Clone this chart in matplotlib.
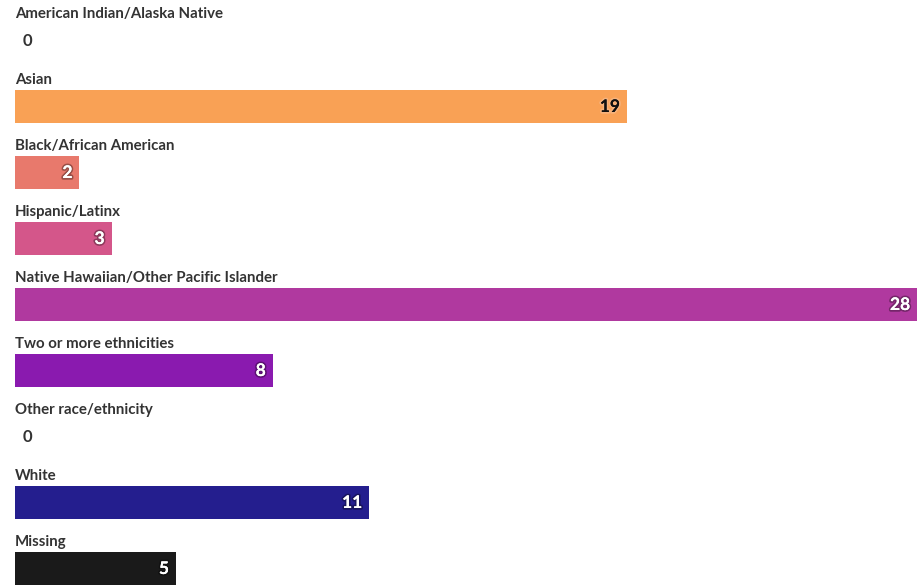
import matplotlib
matplotlib.use("Agg")
import matplotlib.pyplot as plt
import matplotlib.patheffects as pe

categories = ["American Indian/Alaska Native", "Asian", "Black/African American",
              "Hispanic/Latinx", "Native Hawaiian/Other Pacific Islander",
              "Two or more ethnicities", "Other race/ethnicity", "White", "Missing"]
values = [0, 19, 2, 3, 28, 8, 0, 11, 5]
colors = ["#cccccc", "#F9A155", "#E8796C", "#D4568A", "#B0399F",
          "#8A1AAF", "#cccccc", "#241E8E", "#1A1A1A"]
text_colors = ["#333333", "#111111", "white", "white", "white", "white", "#333333", "white", "white"]

W, H = 917, 586
fig = plt.figure(figsize=(W/100, H/100), dpi=100)
ax = fig.add_axes([0, 0, 1, 1])
k = (W - 15) / max(values)
ax.set_xlim(-15 / k, max(values))
ax.set_ylim(H, 0)
ax.axis("off")

font = "Lato"
centers = [40 + 66 * i for i in range(len(categories))]
ax.barh(centers, values, height=33, left=0, color=colors, edgecolor="none")

for c, cat, v, tc, col in zip(centers, categories, values, text_colors, colors):
    ax.text(0, c - 26, cat, ha="left", va="center", fontsize=10.8, fontweight="bold",
            color="#333333", family=font)
    if v == 0:
        ax.text(12 / k, c + 1, str(v), ha="center", va="center", fontsize=12,
                fontweight="bold", color="#333333", family=font)
    else:
        stroke = "#F7B27A" if tc != "white" else "#00000055"
        t = ax.text(v - 7 / k, c + 1, str(v), ha="right", va="center", fontsize=12.5,
                    fontweight="bold", color=tc, family=font)
        t.set_path_effects([pe.withStroke(linewidth=2.5, foreground=stroke), pe.Normal()])

fig.savefig("out.png", dpi=100)
